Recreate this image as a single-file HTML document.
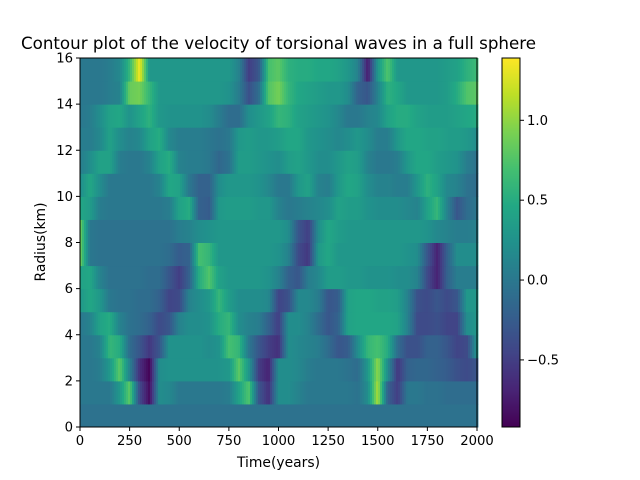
<!DOCTYPE html>
<html><head><meta charset="utf-8"><style>
body{margin:0;background:#fff}
svg{display:block;font-family:"DejaVu Sans","Liberation Sans",sans-serif}
</style></head><body>
<svg id="chart" width="640" height="480" viewBox="0 0 640 480">
<text x="278.5" y="49" text-anchor="middle" font-size="16.7">Contour plot of the velocity of torsional waves in a full sphere</text>
<g id="heat"></g>
<g id="cbar"></g>
<g id="axes"></g>
<text x="278.5" y="467" text-anchor="middle" font-size="13.9">Time(years)</text>
<text transform="translate(45,242) rotate(-90)" text-anchor="middle" font-size="13.9">Radius(km)</text>
</svg>
<script>
const years = [0,50,100,150,200,250,300,350,400,450,500,550,600,650,700,750,800,850,900,950,1000,1050,1100,1150,1200,1250,1300,1350,1400,1450,1500,1550,1600,1650,1700,1750,1800,1850,1900,1950,2000];
const row0 = [-0.05,-0.05,-0.05,-0.05,-0.05,-0.05,-0.05,-0.05,-0.05,-0.05,-0.05,-0.05,-0.05,-0.05,-0.05,-0.05,-0.05,-0.05,-0.05,-0.05,-0.05,-0.05,-0.05,-0.05,-0.05,-0.05,-0.05,-0.05,-0.05,-0.05,-0.05,-0.05,-0.05,-0.05,-0.05,-0.05,-0.05,-0.05,-0.05,-0.05,-0.05];
const row1 = [0,0,0,0,0.3,0.8,-0.4,-0.85,0.2,0.15,0,0,0,0,0,0.05,0.4,0.75,-0.3,-0.6,0.2,0.2,0.1,0,0,0,0,0,-0.05,0.2,1.1,-0.2,-0.5,0,0,-0.05,-0.05,-0.1,-0.1,-0.1,-0.1];
const row2 = [0,0,0.05,0.3,0.8,0.1,-0.6,-0.9,0.2,0.25,0.25,0.25,0.25,0.25,0.25,0.3,0.8,0.3,-0.5,-0.7,0.2,0.2,0.15,0.05,0,0,0,-0.05,-0.1,0.3,1.0,0.2,-0.55,-0.2,-0.15,-0.15,-0.2,-0.25,-0.35,-0.4,-0.3];
const row3 = [0,0,0.1,0.6,0.5,-0.1,-0.3,-0.55,-0.3,0.25,0.25,0.25,0.25,0.2,0.25,0.7,0.6,0,-0.3,-0.5,-0.6,0.2,0.15,0.1,0.05,-0.1,-0.3,-0.25,0.2,0.6,0.7,0.5,-0.1,-0.35,-0.35,-0.2,-0.2,-0.3,-0.45,-0.4,0.3];
const row4 = [0,0.1,0.4,0.5,0.1,-0.05,-0.1,-0.2,-0.4,-0.3,0.1,0.2,0.2,0.25,0.5,0.6,0.2,0.1,0.05,-0.2,-0.5,0.2,0.2,0.1,-0.1,-0.3,-0.2,0.4,0.45,0.45,0.45,0.45,0.4,0.1,-0.4,-0.4,-0.35,-0.45,-0.45,0.2,0.3];
const row5 = [0.3,0.45,0.3,0,-0.05,-0.05,-0.1,-0.1,-0.2,-0.45,-0.4,0.1,0.2,0.3,0.6,0.35,0.2,0.2,0.2,0.15,-0.45,-0.35,0.15,0.15,0.05,-0.3,-0.25,0.4,0.45,0.45,0.4,0.4,0.35,0.1,-0.35,-0.4,-0.3,-0.4,-0.3,0.3,0.3];
const row6 = [0.4,0.45,0.1,-0.05,-0.05,-0.05,-0.05,-0.1,-0.1,-0.3,-0.5,-0.2,0.5,0.75,0.4,0.3,0.3,0.3,0.3,0.25,0.1,-0.2,-0.3,0.05,0.15,0.35,0.35,0.3,0.3,0.25,0.25,0.25,0.2,0.2,0.1,-0.4,-0.7,-0.2,0.05,0.05,0.05];
const row7 = [0.9,0,-0.05,-0.05,-0.05,-0.05,-0.05,-0.05,-0.05,-0.1,-0.25,-0.2,0.7,0.6,0.3,0.3,0.3,0.3,0.3,0.3,0.25,0.1,-0.4,-0.55,0.3,0.45,0.3,0.3,0.3,0.3,0.3,0.3,0.3,0.25,0.2,-0.3,-0.7,-0.2,0.2,0.2,0.2];
const row8 = [0.9,0,-0.05,-0.05,-0.05,-0.05,-0.05,-0.05,-0.05,-0.05,0.05,0.1,0.2,0.25,0.3,0.3,0.3,0.3,0.3,0.3,0.3,0.2,-0.3,-0.5,0.2,0.45,0.35,0.3,0.3,0.3,0.3,0.3,0.3,0.3,0.3,0.25,0.15,0.1,0.05,0.05,0.1];
const row9 = [0.45,0.35,0.05,0,0,0,0,0,0,0.05,0.4,0.5,-0.2,-0.25,0.3,0.35,0.35,0.35,0.3,0.3,0.1,0,0.05,0.1,0.15,0.2,0.4,0.35,0.35,0.25,0.2,0.2,0.2,0.15,0.1,0.4,0.6,0.1,-0.3,-0.1,0];
const row10 = [0.2,0.45,0.2,0,0,0,0,0,0.1,0.45,0.4,0,-0.2,-0.2,0.2,0.3,0.3,0.3,0.25,0.15,0,0,0.3,0.4,0.1,0.05,0.3,0.45,0.4,0.2,0.1,0.1,0.05,0.05,0.3,0.55,0.4,0.15,0.1,-0.05,-0.1];
const row11 = [0.05,0.2,0.4,0.4,0.05,0,0,0.1,0.4,0.5,0.1,0.05,0.05,0,-0.15,-0.05,0.35,0.35,0.3,0.25,0.2,0.35,0.4,0.3,0.2,0.2,0.3,0.4,0.35,0.1,0,0,0.05,0.3,0.45,0.45,0.35,0.3,0.25,0.05,-0.05];
const row12 = [0.05,0.05,0.15,0.4,0.2,0.1,0.15,0.4,0.5,0.15,0.05,0.05,0.05,0,-0.05,0,0.3,0.35,0.3,0.3,0.35,0.45,0.45,0.3,0.25,0.2,0.15,0.2,0.3,0.2,0.05,0.05,0.3,0.45,0.45,0.4,0.4,0.35,0.35,0.3,0.2];
const row13 = [0,0.05,0.2,0.4,0.45,0.25,0.4,0.55,0.3,0.25,0.25,0.25,0.25,0.2,0.05,-0.1,-0.1,0.2,0.3,0.4,0.6,0.55,0.4,0.35,0.3,0.25,0.15,0,0,0.1,0.15,0.4,0.5,0.5,0.4,0.35,0.35,0.35,0.4,0.45,0.5];
const row14 = [0,0,0,0.05,0.1,0.85,0.9,0.6,0.3,0.3,0.3,0.3,0.3,0.3,0.3,0.25,0.05,-0.35,-0.1,0.75,0.9,0.6,0.45,0.4,0.35,0.3,0.3,0.2,-0.2,-0.3,0.1,0.55,0.45,0.3,0.3,0.3,0.3,0.35,0.5,0.75,0.8];
const row15 = [0,0,0,0.05,0.15,0.6,1.35,0.3,0.3,0.3,0.3,0.3,0.3,0.3,0.3,0.3,0.1,-0.5,-0.3,0.7,0.8,0.55,0.5,0.5,0.45,0.45,0.4,0.3,0.1,-0.75,0.3,0.75,0.3,0.3,0.3,0.3,0.3,0.35,0.4,0.55,0.65];
const rows = [row0,row1,row2,row3,row4,row5,row6,row7,row8,row9,row10,row11,row12,row13,row14,row15];
const xTicks = [0,250,500,750,1000,1250,1500,1750,2000];
const yTicks = [0,2,4,6,8,10,12,14,16];
const cbTicks = [-0.5,0.0,0.5,1.0];
const cbLabels = ["\u22120.5","0.0","0.5","1.0"];
const vmin = -0.92, vmax = 1.39;

const NS = "http://www.w3.org/2000/svg";
const X0=80,X1=477,Y0=427,Y1=58;
const xs = v => X0 + (v-0)/(2000-0)*(X1-X0);
const ys = v => Y0 - v/16*(Y0-Y1);
const vir = ["#440154","#482475","#414487","#355f8d","#2a788e","#21918c","#22a884","#44bf70","#7ad151","#bddf26","#fde725"].map(h=>[1,3,5].map(i=>parseInt(h.substr(i,2),16)));
function color(v){
  let t=(v-vmin)/(vmax-vmin); t=Math.max(0,Math.min(1,t))*10;
  const i=Math.min(9,Math.floor(t)), f=t-i;
  const c=vir[i].map((a,k)=>Math.round(a+(vir[i+1][k]-a)*f));
  return "rgb("+c.join(",")+")";
}
function interp(arr,yr){
  let i=Math.min(years.length-2,Math.floor(yr/50)); const f=(yr-years[i])/(years[i+1]-years[i]);
  return arr[i]+(arr[i+1]-arr[i])*f;
}
function mk(tag,attrs,parent){const e=document.createElementNS(NS,tag);for(const k in attrs)e.setAttribute(k,attrs[k]);parent.appendChild(e);return e;}
const heat=document.getElementById("heat");
rows.forEach((arr,r)=>{
  const g=mk("g",{},heat);
  
  
  const yTop=ys(r+1), yBot=ys(r);
  for(let px=X0;px<X1;px+=2){
    const yr=(px+1-X0)/(X1-X0)*2000;
    const rc=mk("rect",{x:px,y:yTop,width:2.4,height:yBot-yTop+0.5,fill:color(interp(arr,yr))},g);
    
    
  }
});
const axes=document.getElementById("axes");
const fr=mk("rect",{x:X0,y:Y1,width:X1-X0,height:Y0-Y1,fill:"none",stroke:"#000","stroke-width":1},axes);


xTicks.forEach(t=>{
  const x=xs(t);
  mk("line",{x1:x,x2:x,y1:Y0,y2:Y0+4,stroke:"#000"},axes);
  const tx=mk("text",{x:x,y:Y0+18,"text-anchor":"middle","font-size":"13.2"},axes);
  tx.textContent=t;
  
  
});
yTicks.forEach(t=>{
  const y=ys(t);
  mk("line",{x1:X0-4,x2:X0,y1:y,y2:y,stroke:"#000"},axes);
  const tx=mk("text",{x:X0-7,y:y+4.5,"text-anchor":"end","font-size":"13.2"},axes);
  tx.textContent=t;
  
  
});
const cb=document.getElementById("cbar");
const CX0=502,CX1=520;
const cy = v => Y0 - (v-vmin)/(vmax-vmin)*(Y0-Y1);
for(let y=Y1;y<Y0;y++){
  const v=vmax-(y+0.5-Y1)/(Y0-Y1)*(vmax-vmin);
  mk("rect",{x:CX0,y:y,width:CX1-CX0,height:1.3,fill:color(v)},cb);
}
const cf=mk("rect",{x:CX0,y:Y1,width:CX1-CX0,height:Y0-Y1,fill:"none",stroke:"#000"},cb);


cbTicks.forEach((t,i)=>{
  const y=cy(t);
  mk("line",{x1:CX1,x2:CX1+4,y1:y,y2:y,stroke:"#000"},cb);
  const tx=mk("text",{x:CX1+7,y:y+4.5,"font-size":"13.2"},cb);
  tx.textContent=cbLabels[i];
  
  
});
</script>
</body></html>
